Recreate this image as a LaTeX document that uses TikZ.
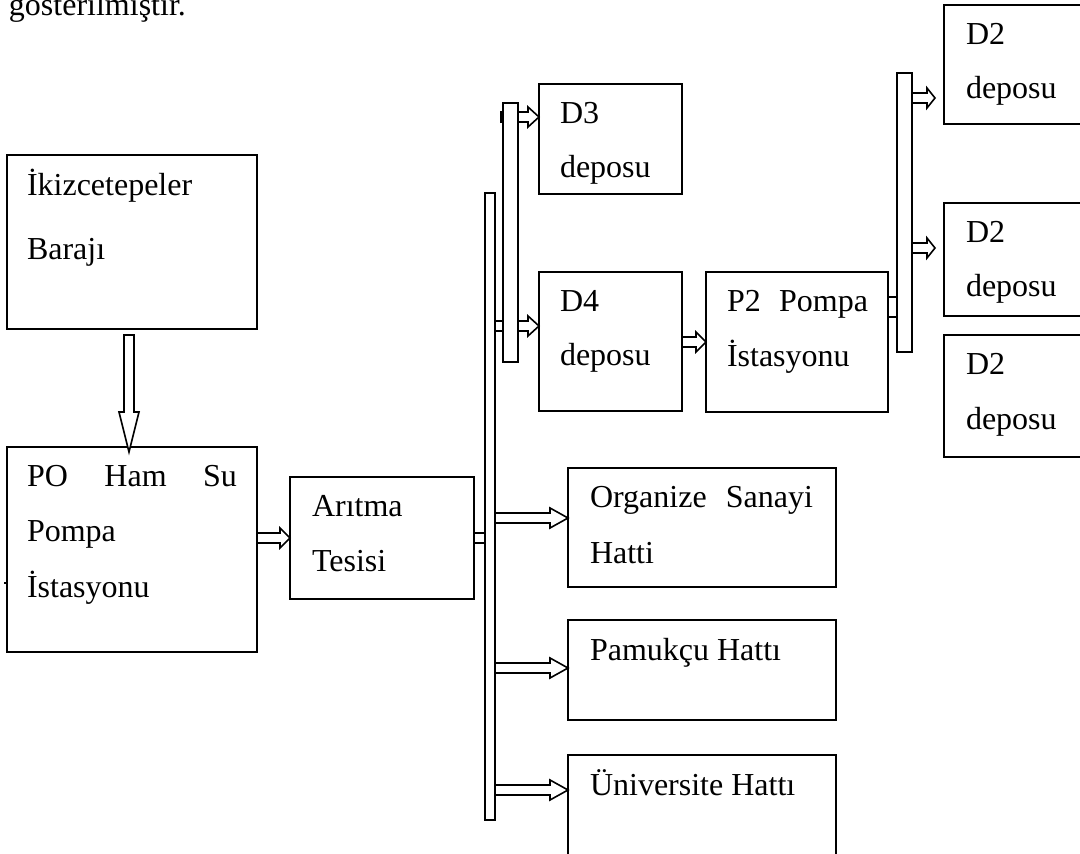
\documentclass[tikz,border=0pt]{standalone}
\usepackage{fontspec}
\setmainfont{Liberation Serif}
\usetikzlibrary{calc}
\newcommand\fs{\fontsize{16}{19}\selectfont}
% horizontal block arrow: #1 start, #2 tip, #3 head length
\newcommand\harr[3]{\draw[blockarrow] let \p1=(#1), \p2=(#2) in
  (\x1,\y2+2.5pt) -- (\x2-#3,\y2+2.5pt) -- (\x2-#3,\y2+5pt) -- (\x2,\y2) --
  (\x2-#3,\y2-5pt) -- (\x2-#3,\y2-2.5pt) -- (\x1,\y2-2.5pt) -- cycle;}
% vertical (downward) block arrow
\newcommand\varr[3]{\draw[blockarrow] let \p1=(#1), \p2=(#2) in
  (\x2-2.5pt,\y1) -- (\x2-2.5pt,\y2+#3) -- (\x2-5pt,\y2+#3) -- (\x2,\y2) --
  (\x2+5pt,\y2+#3) -- (\x2+2.5pt,\y2+#3) -- (\x2+2.5pt,\y1) -- cycle;}
\tikzset{
  box/.style={draw, line width=0.8pt, anchor=north west, inner sep=0pt, outer sep=0pt},
  bus/.style={draw, fill=white, line width=0.8pt, anchor=north west, inner sep=0pt, outer sep=0pt},
  lbl/.style={anchor=base west, inner sep=0pt, outer sep=0pt, font=\fs},
  blockarrow/.style={draw, fill=white, line width=0.8pt, line join=miter},
  stub/.style={draw, line width=0.8pt}
}
\begin{document}
\begin{tikzpicture}[x=0.5pt,y=-0.5pt]
\useasboundingbox (0,0) rectangle (1080,854);
\clip (0,0) rectangle (1080,854);
\fill[white] (0,0) rectangle (1080,854);

\node[lbl] (top) at (9,16) {gosterilmiştir.};

% boxes
\node[box, minimum width=125pt, minimum height=87pt] (ikiz) at (7,155) {};
\node[box, minimum width=125pt, minimum height=102.5pt] (po) at (7,447) {};
\node[box, minimum width=92pt, minimum height=61pt] (arit) at (290,477) {};
\node[box, minimum width=71.5pt, minimum height=55pt] (d3) at (539,84) {};
\node[box, minimum width=71.5pt, minimum height=69.5pt] (d4) at (539,272) {};
\node[box, minimum width=91pt, minimum height=70pt] (p2) at (706,272) {};
\node[box, minimum width=78pt, minimum height=59.5pt] (d2a) at (944,5) {};
\node[box, minimum width=78pt, minimum height=56.5pt] (d2b) at (944,203) {};
\node[box, minimum width=78pt, minimum height=61pt] (d2c) at (944,335) {};
\node[box, minimum width=134pt, minimum height=59.5pt] (org) at (568,468) {};
\node[box, minimum width=134pt, minimum height=50pt] (pam) at (568,620) {};
\node[box, minimum width=134pt, minimum height=72.5pt] (uni) at (568,755) {};

% texts
\node[lbl] (t1) at (27,196) {İkizcetepeler};
\node[lbl] (t2) at (27,260) {Barajı};
\node[lbl] (t3) at (27,487) {\makebox[105pt][s]{PO\hfill Ham\hfill Su}};
\node[lbl] (t4) at (27,542) {Pompa};
\node[lbl] (t5) at (27,597) {İstasyonu};
\node[lbl] (t6) at (312,517) {Arıtma};
\node[lbl] (t7) at (312,572) {Tesisi};
\node[lbl] (t8) at (560,124) {D3};
\node[lbl] (t9) at (560,178) {deposu};
\node[lbl] (t10) at (560,312) {D4};
\node[lbl] (t11) at (560,366) {deposu};
\node[lbl] (t12) at (727,312) {\makebox[70.5pt][s]{P2\hfill Pompa}};
\node[lbl] (t13) at (727,367) {İstasyonu};
\node[lbl] (t14) at (966,45) {D2};
\node[lbl] (t15) at (966,99) {deposu};
\node[lbl] (t16) at (966,243) {D2};
\node[lbl] (t17) at (966,297) {deposu};
\node[lbl] (t18) at (966,375) {D2};
\node[lbl] (t19) at (966,430) {deposu};
\node[lbl] (t20) at (590,508) {\makebox[111.5pt][s]{Organize\hfill Sanayi}};
\node[lbl] (t21) at (590,563) {Hatti};
\node[lbl] (t22) at (590,660) {Pamukçu Hattı};
\node[lbl] (t23) at (590,795) {Üniversite Hattı};

% bus geometry (placed now for anchors, drawn later on top)
\path (485,193) coordinate (b1nw) (495,820) coordinate (b1se);
\path (503,103) coordinate (b2nw) (518,362) coordinate (b2se);
\path (897,73) coordinate (b3nw) (912,352) coordinate (b3se);

% arrow levels / free ends
\coordinate (dS) at (129,335);
\coordinate (dT) at (129,452);
\coordinate (yA) at (0,538);
\coordinate (yD3) at (0,117);
\coordinate (yD4) at (0,326);
\coordinate (yP2) at (0,342);
\coordinate (yO) at (0,518);
\coordinate (yPm) at (0,668);
\coordinate (yU) at (0,790);
\coordinate (s3) at (501,117);
\coordinate (e2a) at (935,98);
\coordinate (e2b) at (935,248);

% arrows
\varr{dS}{dT}{20pt}
\harr{po.east |- yA}{arit.west |- yA}{5pt}
\harr{b1se |- yD4}{d4.west |- yD4}{5.5pt}
\harr{s3}{d3.west |- yD3}{5.5pt}
\harr{d4.east |- yP2}{p2.west |- yP2}{5pt}
\harr{b3se |- e2a}{e2a}{4pt}
\harr{b3se |- e2b}{e2b}{4pt}
\harr{b1se |- yO}{org.west |- yO}{9pt}
\harr{b1se |- yPm}{pam.west |- yPm}{9pt}
\harr{b1se |- yU}{uni.west |- yU}{9pt}

% buses
\draw[bus] (b1nw) rectangle (b1se);
\draw[bus] (b2nw) rectangle (b2se);
\draw[bus] (b3nw) rectangle (b3se);

% stubs
\draw[stub] (arit.east |- 0,533) rectangle (b1nw |- 0,543);
\draw[stub] (p2.east |- 0,297) rectangle (b3nw |- 0,317);

% stray tick
\draw[line width=0.8pt] (4,583) -- (7,583);
\end{tikzpicture}
\end{document}
